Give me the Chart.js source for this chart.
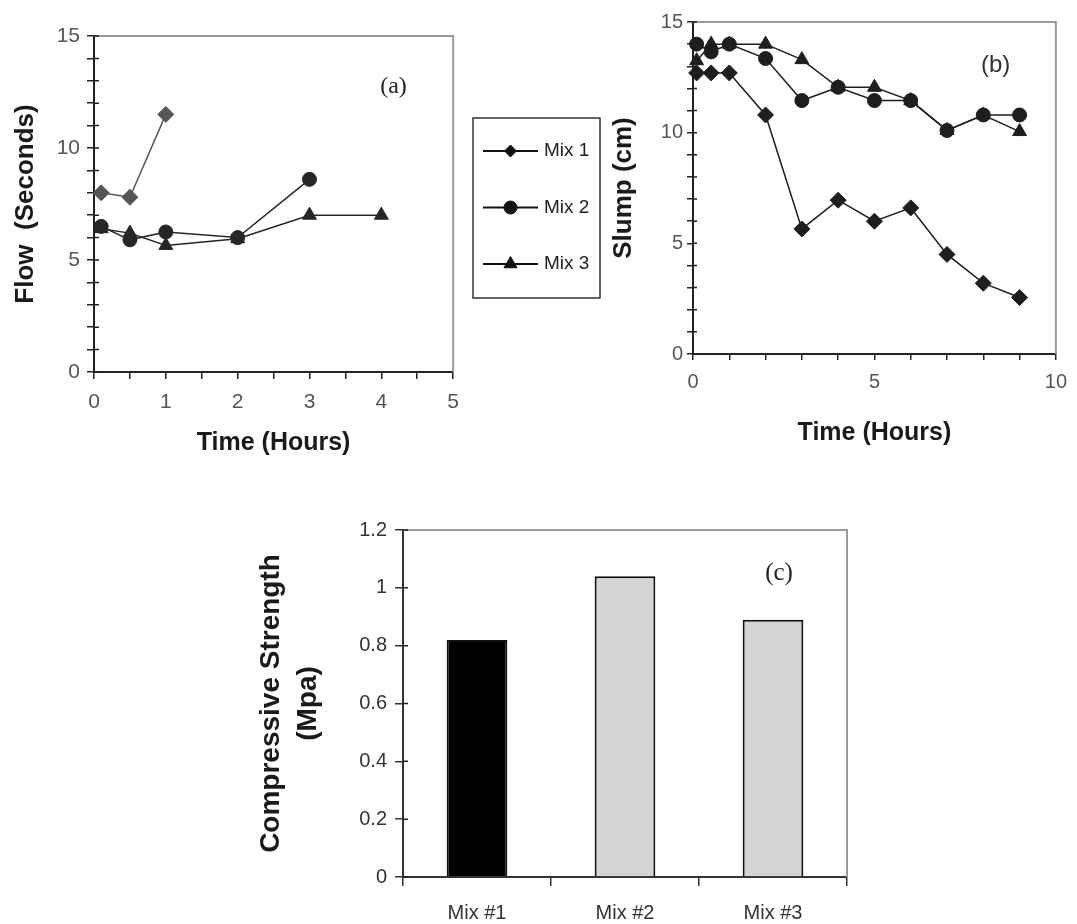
<!DOCTYPE html>
<html>
<head>
<meta charset="utf-8">
<title>Flow, slump and compressive strength of the three mixes</title>
<script src="https://cdn.jsdelivr.net/npm/chart.js@4.4.1/dist/chart.umd.min.js"></script>
<style>
  body { margin: 0; background: #fff; }
  #page { position: relative; width: 1077px; height: 924px; overflow: hidden; }
  canvas { position: absolute; }
  #flow-chart { left: 0; top: 0; }
  #slump-chart { left: 468px; top: 0; }
  #strength-chart { left: 220px; top: 500px; }
</style>
</head>
<body>
<div id="page">
  <canvas id="flow-chart" width="470" height="470"></canvas>
  <canvas id="slump-chart" width="609" height="460"></canvas>
  <canvas id="strength-chart" width="660" height="424"></canvas>
</div>
<script>
// Values

const MIX_LABELS = ['Mix 1', 'Mix 2', 'Mix 3'];

// (a) flow time (seconds) against elapsed time (hours)
const flowHoursMix1 = [0.1, 0.5, 1];
const flowMix1 = [8.0, 7.8, 11.5];
const flowHoursMix2 = [0.1, 0.5, 1, 2, 3];
const flowMix2 = [6.5, 5.9, 6.25, 6.0, 8.6];
const flowHoursMix3 = [0.1, 0.5, 1, 2, 3, 4];
const flowMix3 = [6.4, 6.2, 5.65, 5.95, 7.0, 7.0];

// (b) slump (cm) against elapsed time (hours)
const slumpHours = [0.1, 0.5, 1, 2, 3, 4, 5, 6, 7, 8, 9];
const slumpMix1 = [12.7, 12.7, 12.7, 10.8, 5.65, 6.95, 6.0, 6.6, 4.5, 3.2, 2.55];
const slumpMix2 = [14.0, 13.65, 14.0, 13.35, 11.45, 12.05, 11.45, 11.45, 10.1, 10.8, 10.8];
const slumpMix3 = [13.25, 14.0, 14.0, 14.0, 13.3, 12.05, 12.05, 11.45, 10.1, 10.8, 10.05];

// (c) compressive strength (MPa)
const strengthLabels = ['Mix #1', 'Mix #2', 'Mix #3'];
const strengthValues = [0.82, 1.04, 0.89];
const strengthColors = ['#000000', '#d4d4d4', '#d4d4d4'];

// Look of the three series (marker per mix)
const MIX_STYLES = [
  { pointStyle: 'rectRot', radius: 8, legendRadius: 6 },
  { pointStyle: 'circle', radius: 7, legendRadius: 6.5 },
  { pointStyle: 'triangle', radius: 8, legendRadius: 7.5 }
];

const SANS = "'Liberation Sans', Arial, sans-serif";
const SERIF = "'Liberation Serif', 'Times New Roman', serif";

Chart.defaults.font.family = SANS;
Chart.defaults.animation = false;

function toPoints(xs, ys) {
  return xs.map((x, i) => ({ x: x, y: ys[i] }));
}

/**
 * Grey top and right edges of the plot box, plus short tick marks
 * on the inner side of the y axis
 */
const plotFrame = {
  id: 'plotFrame',
  beforeDatasetsDraw(chart, args, opts) {
    const { ctx, chartArea: a } = chart;
    ctx.save();
    ctx.strokeStyle = '#9a9a9a';
    ctx.lineWidth = 2;
    ctx.beginPath();
    ctx.moveTo(a.left, a.top);
    ctx.lineTo(a.right, a.top);
    ctx.lineTo(a.right, a.bottom);
    ctx.stroke();

    const y = chart.scales.y;
    const inner = opts.innerTick || 0;
    if (inner > 0) {
      ctx.strokeStyle = '#222';
      ctx.lineWidth = 1.5;
      ctx.beginPath();
      y.ticks.forEach(t => {
        const py = y.getPixelForValue(t.value);
        ctx.moveTo(a.left, py);
        ctx.lineTo(a.left + inner, py);
      });
      ctx.stroke();
    }
    ctx.restore();
  }
};

/**
 * Panel letter such as "(a)", placed as a fraction of the plot box
 */
const panelTag = {
  id: 'panelTag',
  afterDraw(chart, args, opts) {
    if (!opts.text) return;
    const { ctx, chartArea: a } = chart;
    ctx.save();
    ctx.font = opts.font;
    ctx.fillStyle = opts.color || '#222';
    ctx.textAlign = 'center';
    ctx.textBaseline = 'middle';
    ctx.fillText(opts.text, a.left + opts.fx * (a.right - a.left), a.top + opts.fy * (a.bottom - a.top));
    ctx.restore();
  }
};

/**
 * Boxed legend shared by panels (a) and (b), drawn left of the slump axis
 */
const mixLegend = {
  id: 'mixLegend',
  afterDraw(chart, args, opts) {
    if (!opts.box) return;
    const ctx = chart.ctx;
    const b = opts.box;
    ctx.save();
    ctx.strokeStyle = '#333';
    ctx.lineWidth = 1.5;
    ctx.strokeRect(b.left, b.top, b.width, b.height);

    ctx.font = opts.font;
    ctx.textAlign = 'left';
    ctx.textBaseline = 'middle';
    chart.data.datasets.forEach((ds, i) => {
      const y = opts.firstY + i * opts.rowGap;
      ctx.strokeStyle = '#111';
      ctx.fillStyle = '#111';
      ctx.lineWidth = 2;
      ctx.beginPath();
      ctx.moveTo(opts.lineX1, y);
      ctx.lineTo(opts.lineX2, y);
      ctx.stroke();
      ctx.lineWidth = 1;
      Chart.helpers.drawPoint(ctx, {
        pointStyle: ds.pointStyle,
        radius: MIX_STYLES[i].legendRadius,
        rotation: 0,
        borderWidth: 1
      }, (opts.lineX1 + opts.lineX2) / 2, y);
      ctx.fillStyle = '#222';
      ctx.fillText(ds.label, opts.textX, y);
    });
    ctx.restore();
  }
};

function mixDataset(index, points, color) {
  const style = MIX_STYLES[index];
  return {
    label: MIX_LABELS[index],
    data: points,
    borderColor: color,
    backgroundColor: color,
    borderWidth: 1.5,
    pointStyle: style.pointStyle,
    pointRadius: style.radius,
    pointBackgroundColor: color,
    pointBorderColor: color,
    pointBorderWidth: 1,
    tension: 0,
    clip: false
  };
}

/**
 * Linear axis with minor tick marks and labels only on some of them
 */
function timeAxis(cfg) {
  return {
    type: 'linear',
    min: cfg.min,
    max: cfg.max,
    border: { color: '#222', width: 2 },
    grid: { drawOnChartArea: false, drawTicks: true, tickLength: cfg.tickLength, color: '#222', lineWidth: 1.5 },
    ticks: {
      stepSize: cfg.step,
      autoSkip: false,
      maxRotation: 0,
      padding: cfg.padding,
      color: '#555',
      font: { size: cfg.fontSize },
      callback: v => (Math.abs(v / cfg.labelEvery - Math.round(v / cfg.labelEvery)) < 1e-9 ? v : '')
    },
    title: {
      display: true,
      text: cfg.title,
      color: '#1a1a1a',
      font: { size: cfg.titleSize, weight: 'bold' },
      padding: cfg.titlePadding
    },
    afterFit: cfg.afterFit
  };
}

/**
 * Initialize flow chart (a)
 */
function initFlowChart() {
  const ctx = document.getElementById('flow-chart');
  return new Chart(ctx, {
    type: 'line',
    data: {
      datasets: [
        mixDataset(0, toPoints(flowHoursMix1, flowMix1), '#555555'),
        mixDataset(1, toPoints(flowHoursMix2, flowMix2), '#262626'),
        mixDataset(2, toPoints(flowHoursMix3, flowMix3), '#262626')
      ]
    },
    options: {
      responsive: false,
      layout: { padding: { top: 36, right: 15, left: 0, bottom: 0 } },
      plugins: {
        legend: { display: false },
        tooltip: { enabled: false },
        plotFrame: { innerTick: 5 },
        panelTag: { text: '(a)', fx: 0.834, fy: 0.152, font: '24px ' + SERIF, color: '#222' }
      },
      scales: {
        x: timeAxis({
          min: 0, max: 5, step: 0.5, labelEvery: 1, tickLength: 7, padding: 11, fontSize: 21,
          title: 'Time (Hours)', titleSize: 25, titlePadding: { top: 4, bottom: 12 },
          afterFit: s => { s.height = 98; }
        }),
        y: timeAxis({
          min: 0, max: 15, step: 1, labelEvery: 5, tickLength: 7, padding: 7, fontSize: 21,
          title: 'Flow  (Seconds)', titleSize: 26, titlePadding: { top: 10, bottom: 0 },
          afterFit: s => { s.width = 94; }
        })
      }
    },
    plugins: [plotFrame, panelTag]
  });
}

/**
 * Initialize slump chart (b), which also carries the shared legend
 */
function initSlumpChart() {
  const ctx = document.getElementById('slump-chart');
  return new Chart(ctx, {
    type: 'line',
    data: {
      datasets: [
        mixDataset(0, toPoints(slumpHours, slumpMix1), '#1e1e1e'),
        mixDataset(1, toPoints(slumpHours, slumpMix2), '#1e1e1e'),
        mixDataset(2, toPoints(slumpHours, slumpMix3), '#1e1e1e')
      ]
    },
    options: {
      responsive: false,
      layout: { padding: { top: 22, right: 17, left: 140, bottom: 0 } },
      plugins: {
        legend: { display: false },
        tooltip: { enabled: false },
        plotFrame: { innerTick: 4 },
        panelTag: { text: '(b)', fx: 0.834, fy: 0.13, font: '24px ' + SANS, color: '#333' },
        mixLegend: {
          box: { left: 5, top: 118, width: 127, height: 180 },
          firstY: 151,
          rowGap: 56.5,
          lineX1: 15,
          lineX2: 70,
          textX: 76,
          font: '19px ' + SANS
        }
      },
      scales: {
        x: timeAxis({
          min: 0, max: 10, step: 1, labelEvery: 5, tickLength: 6, padding: 10, fontSize: 20,
          title: 'Time (Hours)', titleSize: 25, titlePadding: { top: 4, bottom: 12 },
          afterFit: s => { s.height = 106; }
        }),
        y: timeAxis({
          min: 0, max: 15, step: 1, labelEvery: 5, tickLength: 6, padding: 4, fontSize: 20,
          title: 'Slump (cm)', titleSize: 26, titlePadding: { top: 0, bottom: 0 },
          afterFit: s => { s.width = 85; }
        })
      }
    },
    plugins: [plotFrame, panelTag, mixLegend]
  });
}

/**
 * Initialize compressive strength chart (c)
 */
function initStrengthChart() {
  const ctx = document.getElementById('strength-chart');
  return new Chart(ctx, {
    type: 'bar',
    data: {
      labels: strengthLabels,
      datasets: [{
        data: strengthValues,
        backgroundColor: strengthColors,
        borderColor: '#111',
        borderWidth: 2,
        barPercentage: 0.41,
        categoryPercentage: 1.0
      }]
    },
    options: {
      responsive: false,
      layout: { padding: { top: 30, right: 33, left: 0, bottom: 0 } },
      plugins: {
        legend: { display: false },
        tooltip: { enabled: false },
        plotFrame: { innerTick: 5 },
        panelTag: { text: '(c)', fx: 0.847, fy: 0.124, font: '25px ' + SERIF, color: '#222' }
      },
      scales: {
        x: {
          border: { color: '#333', width: 2 },
          grid: { offset: true, drawOnChartArea: false, drawTicks: true, tickLength: 9, color: '#333', lineWidth: 1.5 },
          ticks: { padding: 15, color: '#333', font: { size: 20 }, maxRotation: 0 },
          afterFit: s => { s.height = 47; }
        },
        y: {
          min: 0,
          max: 1.2,
          border: { color: '#333', width: 2 },
          grid: { drawOnChartArea: false, drawTicks: true, tickLength: 8, color: '#333', lineWidth: 1.5 },
          ticks: {
            stepSize: 0.2,
            padding: 8,
            color: '#333',
            font: { size: 20 },
            callback: v => String(Number(v.toFixed(1)))
          },
          title: {
            display: true,
            text: ['Compressive Strength', '(Mpa)'],
            color: '#1a1a1a',
            font: { size: 28, weight: 'bold', lineHeight: 1.32 },
            padding: { top: 33, bottom: 0 }
          },
          afterFit: s => { s.width = 183; }
        }
      }
    },
    plugins: [plotFrame, panelTag]
  });
}

initFlowChart();
initSlumpChart();
initStrengthChart();
</script>
</body>
</html>
